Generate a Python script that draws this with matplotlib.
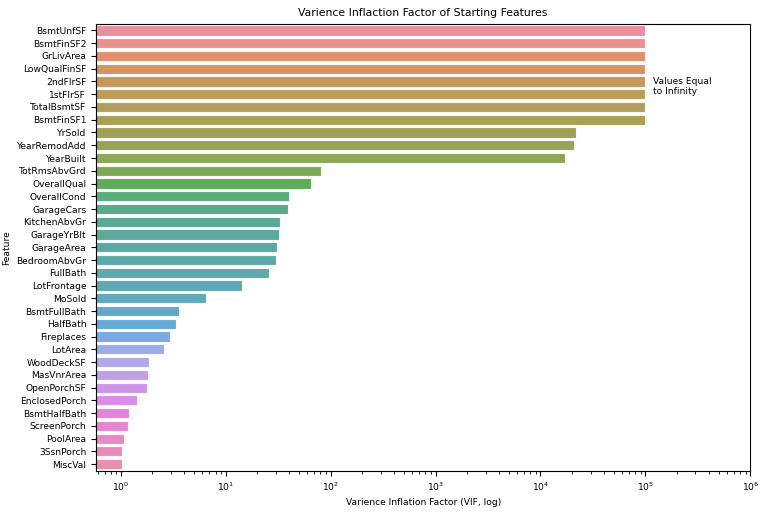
import matplotlib
matplotlib.use('Agg')
import matplotlib.pyplot as plt
import seaborn as sns
import numpy as np

features = ['BsmtUnfSF', 'BsmtFinSF2', 'GrLivArea', 'LowQualFinSF', '2ndFlrSF', '1stFlrSF',
            'TotalBsmtSF', 'BsmtFinSF1', 'YrSold', 'YearRemodAdd', 'YearBuilt', 'TotRmsAbvGrd',
            'OverallQual', 'OverallCond', 'GarageCars', 'KitchenAbvGr', 'GarageYrBlt',
            'GarageArea', 'BedroomAbvGr', 'FullBath', 'LotFrontage', 'MoSold', 'BsmtFullBath',
            'HalfBath', 'Fireplaces', 'LotArea', 'WoodDeckSF', 'MasVnrArea', 'OpenPorchSF',
            'EnclosedPorch', 'BsmtHalfBath', 'ScreenPorch', 'PoolArea', '3SsnPorch', 'MiscVal']
# infinite VIF values were capped at 1e5
vif = [1e5, 1e5, 1e5, 1e5, 1e5, 1e5, 1e5, 1e5, 21900, 21000, 17200, 81.7,
       64.7, 40.5, 39.6, 32.8, 32.1, 30.9, 30.4, 26.1, 14.2, 6.5, 3.62,
       3.37, 2.97, 2.59, 1.86, 1.82, 1.78, 1.42, 1.19, 1.17, 1.08, 1.02, 1.02]

plt.rcParams['font.size'] = 6.6

colors = [sns.desaturate(c, 0.75) for c in sns.color_palette('husl', len(features))]

fig = plt.figure(figsize=(7.68, 5.12), dpi=100)
ax = fig.add_axes([0.125, 0.081, 0.852, 0.872])
ypos = np.arange(len(features))
ax.barh(ypos, vif, height=0.8, color=colors, alpha=0.88, edgecolor='white', linewidth=0.8)
ax.set_xscale('log')
ax.set_xlim(0.58, 1e6)
ax.set_ylim(len(features) - 0.5, -0.5)
ax.set_yticks(ypos)
ax.set_yticklabels(features)
ax.text(1.18e5, 4.4, 'Values Equal\nto Infinity', va='center', ha='left')
ax.set_title('Varience Inflaction Factor of Starting Features', fontsize=7.8)
ax.set_xlabel('Varience Inflation Factor (VIF, log)')
ax.set_ylabel('Feature')
fig.savefig('out.png')
